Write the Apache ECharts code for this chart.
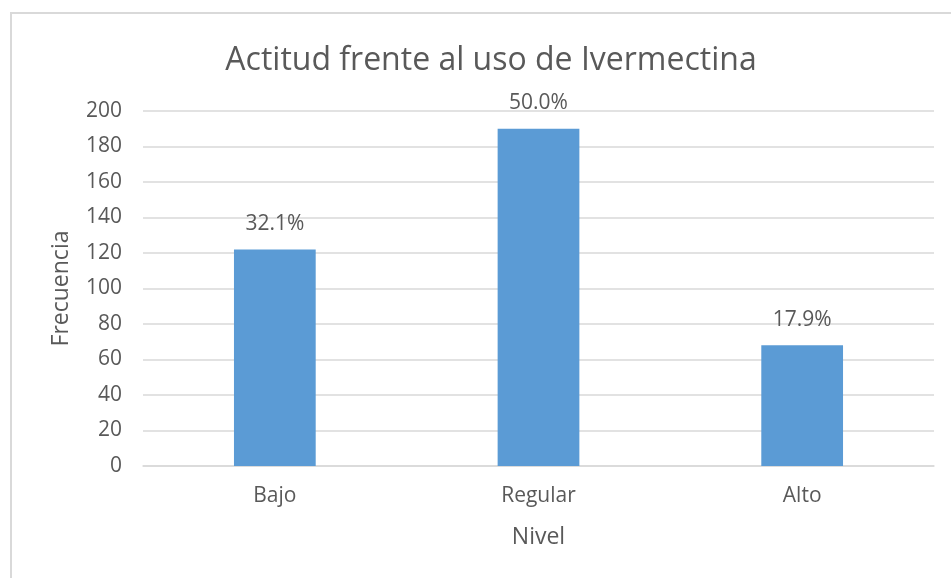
<!DOCTYPE html>
<html>
<head>
<meta charset="utf-8">
<script src="https://cdn.jsdelivr.net/npm/echarts@6/dist/echarts.min.js"></script>
<style>
html,body{margin:0;padding:0;background:#fff;}
#c{width:951px;height:578px;}
</style>
</head>
<body>
<div id="c"></div>
<script>
const categories = ['Bajo', 'Regular', 'Alto'];
const frecuencia = [122, 190, 68];
const yTicks = [0, 20, 40, 60, 80, 100, 120, 140, 160, 180, 200];
const titleText = 'Actitud frente al uso de Ivermectina';

const total = frecuencia.reduce((a, b) => a + b, 0);
const FONT = 'Open Sans';
const chart = echarts.init(document.getElementById('c'), null, {renderer: 'canvas'});
chart.setOption({
  backgroundColor: '#ffffff',
  animation: false,
  graphic: [{
    type: 'rect',
    shape: {x: 11, y: 13, width: 1000, height: 1000},
    style: {fill: 'none', stroke: '#d9d9d9', lineWidth: 2},
    silent: true
  }],
  title: {
    text: titleText,
    left: 486, top: 40, textAlign: 'center',
    textStyle: {fontFamily: FONT, fontSize: 32, fontWeight: 'normal', color: '#595959'}
  },
  grid: {left: 143, right: 17, top: 111, bottom: 112, containLabel: false},
  xAxis: {
    type: 'category',
    data: categories,
    name: 'Nivel',
    nameLocation: 'middle',
    nameGap: 60,
    nameTextStyle: {fontFamily: FONT, fontSize: 23, color: '#595959'},
    axisLine: {lineStyle: {color: '#d9d9d9', width: 1.5}},
    axisTick: {show: false},
    axisLabel: {fontFamily: FONT, fontSize: 21, color: '#595959', margin: 20}
  },
  yAxis: {
    type: 'value',
    min: yTicks[0], max: yTicks[yTicks.length - 1], interval: yTicks[1] - yTicks[0],
    name: 'Frecuencia',
    nameLocation: 'middle',
    nameGap: 70,
    nameRotate: 90,
    nameTextStyle: {fontFamily: FONT, fontSize: 23, color: '#595959'},
    axisLine: {show: false},
    axisTick: {show: false},
    splitLine: {lineStyle: {color: '#d9d9d9', width: 1.5}},
    axisLabel: {fontFamily: FONT, fontSize: 21, color: '#595959', margin: 21}
  },
  series: [{
    type: 'bar',
    data: frecuencia,
    barWidth: '31%',
    itemStyle: {color: '#5b9bd5'},
    label: {
      show: true, position: 'top', distance: 15,
      fontFamily: FONT, fontSize: 21, color: '#595959',
      formatter: p => (p.value / total * 100).toFixed(1) + '%'
    }
  }]
});
</script>
</body>
</html>
